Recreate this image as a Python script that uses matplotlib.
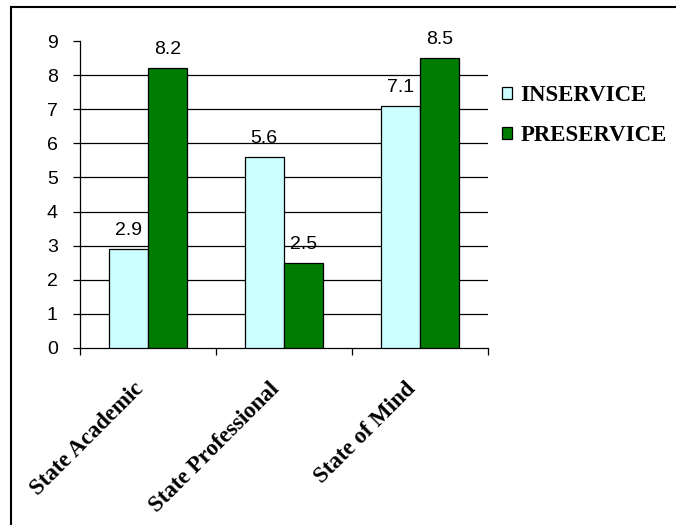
import matplotlib
matplotlib.use("Agg")
import matplotlib.pyplot as plt
from matplotlib.patches import Patch
from matplotlib.lines import Line2D
import numpy as np

categories = ["State Academic", "State Professional", "State of Mind"]
inservice = [2.9, 5.6, 7.1]
preservice = [8.2, 2.5, 8.5]
series_names = ["INSERVICE", "PRESERVICE"]
yticks = list(range(0, 10))

c_in = "#CCFFFF"
c_pre = "#007C00"

fig = plt.figure(figsize=(6.76, 5.25), dpi=100)
ax = fig.add_axes([80/676, 1-348/525, 408/676, 307/525])

x = np.arange(len(categories))
w = 0.29
b1 = ax.bar(x - w/2, inservice, w, color=c_in, edgecolor="black", linewidth=0.9, zorder=3)
b2 = ax.bar(x + w/2, preservice, w, color=c_pre, edgecolor="black", linewidth=0.9, zorder=3)

for bars, vals in ((b1, inservice), (b2, preservice)):
    for r, v in zip(bars, vals):
        ax.annotate(f"{v:g}", xy=(r.get_x() + r.get_width()/2, v), xytext=(0, 10),
                    textcoords="offset points", ha="center", va="baseline",
                    fontsize=14, family="Liberation Sans", color="black")

ax.set_xlim(-0.5, 2.5)
ax.set_ylim(0, 9)
ax.set_yticks(yticks)
ax.set_yticklabels([str(t) for t in yticks], fontsize=14, family="Liberation Sans")
ax.set_xticks([-0.5, 0.5, 1.5, 2.5])
ax.set_xticklabels([])
ax.tick_params(axis="both", direction="out", length=5, width=0.9, color="black")
ax.tick_params(axis="y", pad=11)

for t in yticks[1:-1]:
    ax.axhline(t, color="black", linewidth=0.9, zorder=1)

ax.spines["top"].set_visible(False)
ax.spines["right"].set_visible(False)
ax.spines["left"].set_linewidth(0.9)
ax.spines["bottom"].set_linewidth(0.9)

for i, lab in enumerate(categories):
    ax.annotate(lab, xy=(i, 0), xycoords=("data", "axes fraction"), xytext=(-11, -22),
                textcoords="offset points", rotation=45, ha="right", va="top",
                rotation_mode="anchor", fontsize=16.5, family="Liberation Serif",
                fontweight="bold")

handles = [Patch(facecolor=c_in, edgecolor="black", linewidth=0.9),
           Patch(facecolor=c_pre, edgecolor="black", linewidth=0.9)]
fig.legend(handles, series_names, loc="upper left", bbox_to_anchor=(502/676, 1-85/525),
           frameon=False, handlelength=0.45, handleheight=0.45, handletextpad=0.35,
           labelspacing=0.85, borderaxespad=0, borderpad=0,
           prop={"family": "Liberation Serif", "weight": "bold", "size": 16.5})

fig.add_artist(Line2D([11/676, 1], [1-7/525, 1-7/525], color="black", linewidth=1.5,
                      transform=fig.transFigure))
fig.add_artist(Line2D([11/676, 11/676], [0, 1-7/525], color="black", linewidth=1.5,
                      transform=fig.transFigure))

fig.savefig("out.png", dpi=100)
